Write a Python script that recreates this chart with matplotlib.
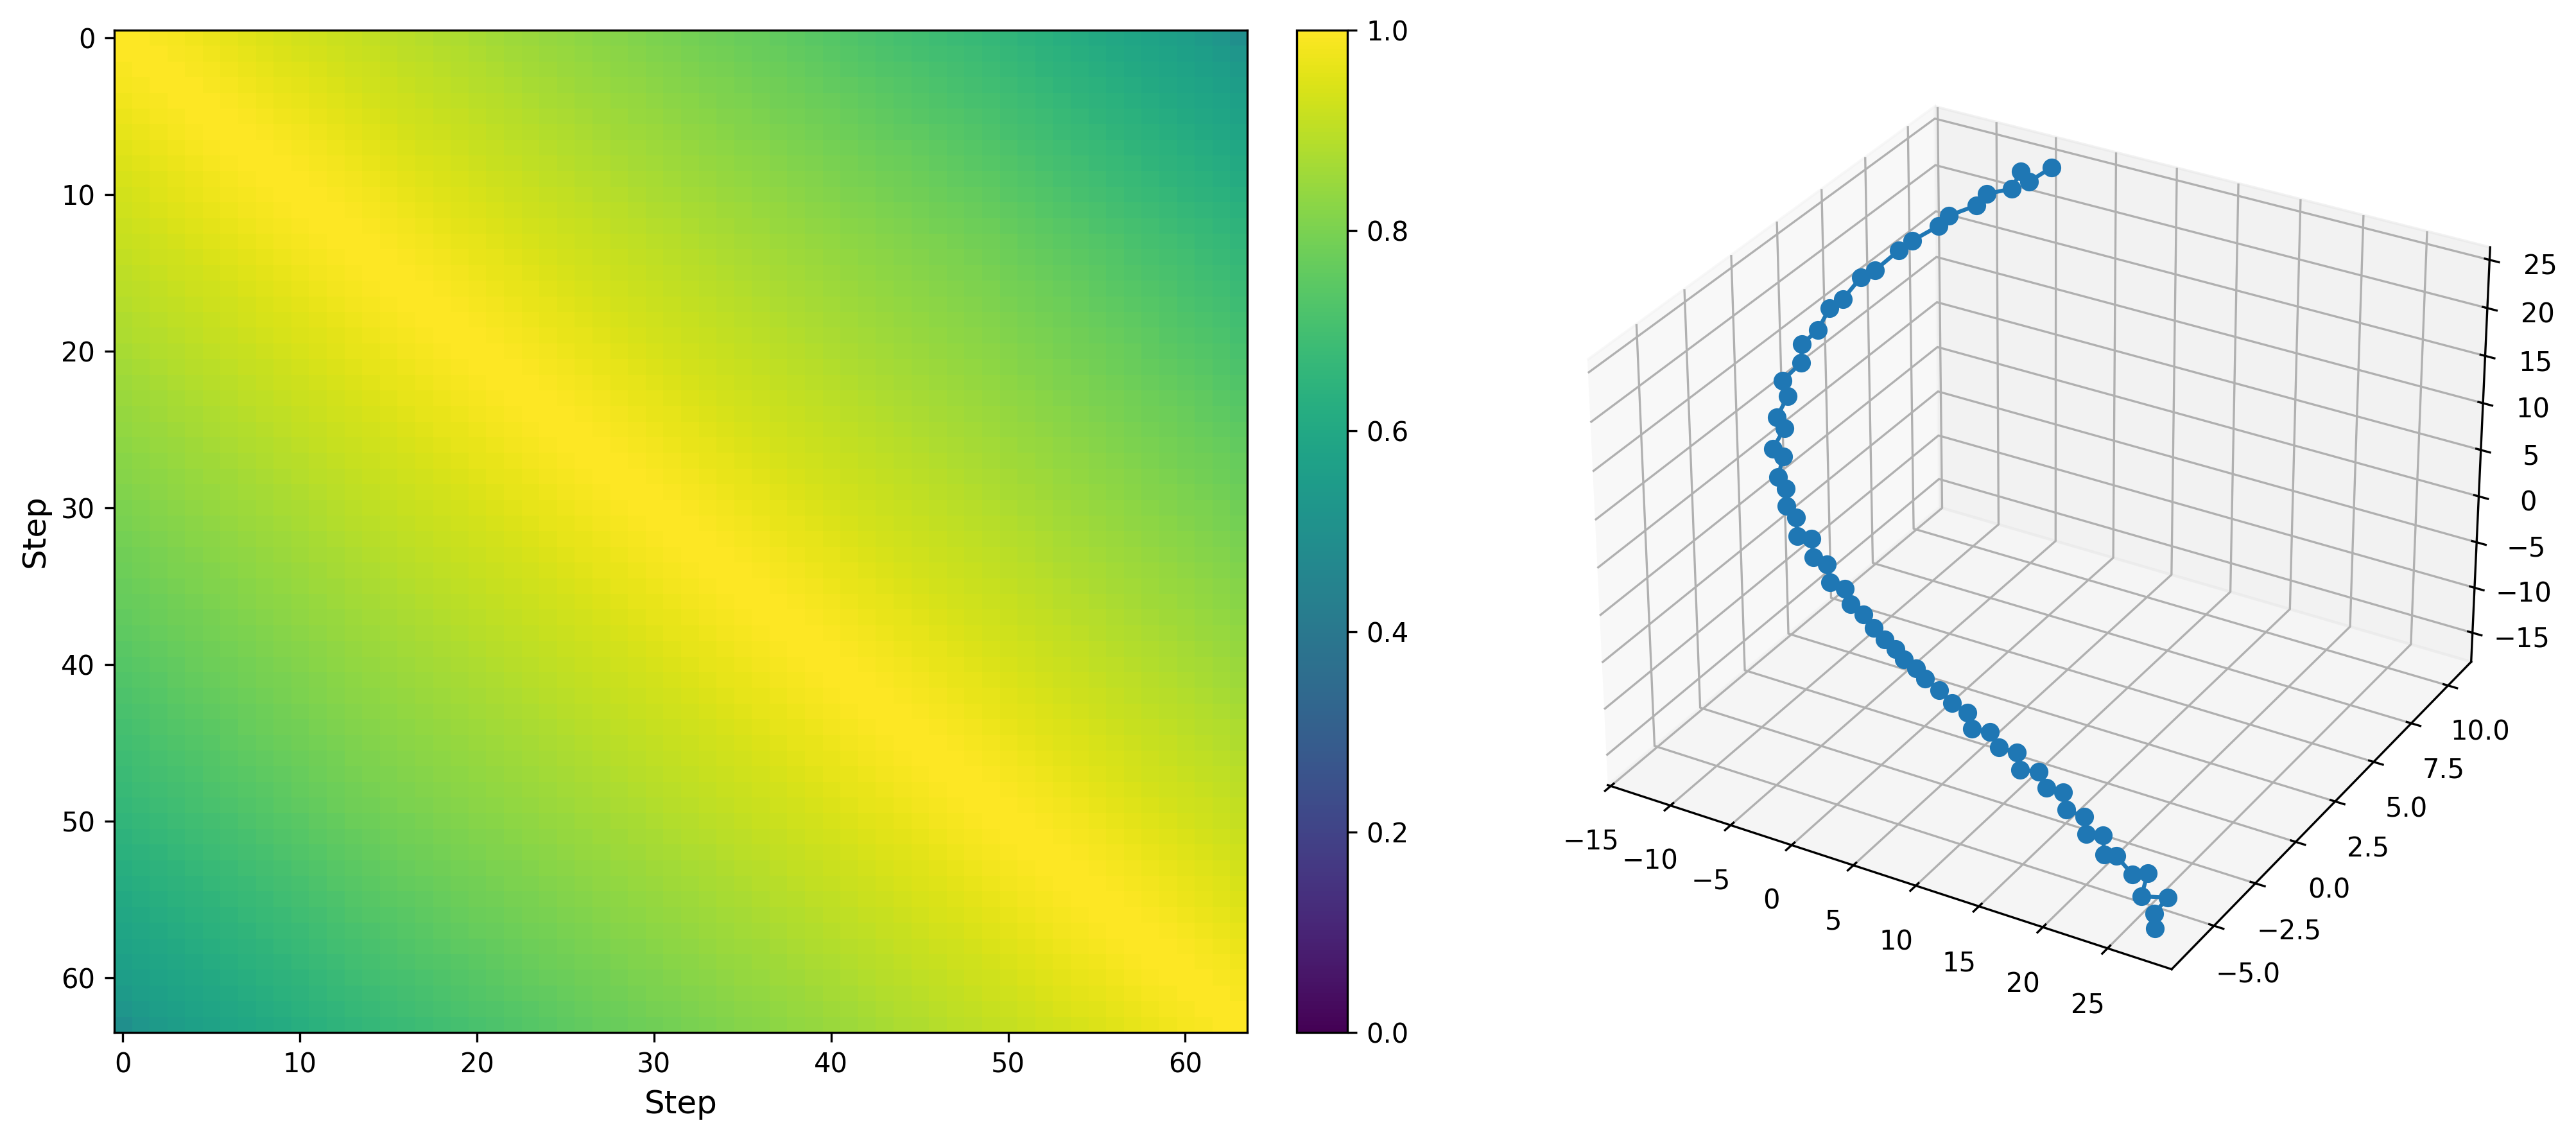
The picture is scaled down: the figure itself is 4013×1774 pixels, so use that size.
import matplotlib
matplotlib.use('Agg')
import matplotlib.pyplot as plt
import numpy as np

W, H = 4013, 1774

# similarity per distance between two steps (mid rows)
lag_sim = [1.000, 0.997, 0.993, 0.988, 0.982, 0.975, 0.968, 0.961, 0.954, 0.947, 0.940, 0.933, 0.927, 0.921, 0.915, 0.909,
           0.903, 0.897, 0.891, 0.885, 0.878, 0.872, 0.866, 0.860, 0.855, 0.849, 0.843, 0.837, 0.831, 0.825, 0.819, 0.813,
           0.807, 0.801, 0.795, 0.789, 0.783, 0.776, 0.769, 0.762, 0.755, 0.748, 0.741, 0.734, 0.727, 0.720, 0.713, 0.706,
           0.699, 0.692, 0.685, 0.678, 0.671, 0.664, 0.657, 0.650, 0.643, 0.636, 0.629, 0.622, 0.615, 0.605, 0.590, 0.570]
# how much faster each step falls away from the others, near the two ends
step_spread = [1.08, 1.075, 1.07, 1.065, 1.06, 1.055, 1.05, 1.045, 1.04, 1.035, 1.03, 1.02, 1.01, 1.00, 1.00, 1.00,
               1.00, 1.00, 1.00, 1.00, 1.00, 1.00, 1.00, 1.00, 1.00, 1.00, 1.00, 1.00, 1.00, 1.00, 1.00, 1.00,
               1.00, 1.00, 1.00, 1.00, 1.00, 1.00, 1.00, 1.00, 1.00, 1.00, 1.00, 1.00, 1.00, 1.00, 1.00, 1.00,
               1.00, 1.00, 1.01, 1.015, 1.02, 1.025, 1.03, 1.035, 1.04, 1.045, 1.05, 1.055, 1.06, 1.065, 1.07, 1.08]

traj_x = [-4.18, -5.34, -5.46, -5.49, -6.85, -7.13, -8.72, -8.84, -10.47, -10.85, -12.12, -12.71, -13.49, -13.86, -14.26, -14.86,
          -14.16, -15.15, -13.94, -14.11, -12.68, -12.90, -11.73, -12.04, -11.10, -10.76, -9.82, -9.44, -7.94, -7.66, -6.22, -5.68,
          -4.30, -3.53, -2.18, -1.20, -0.01, 1.19, 2.01, 3.29, 4.31, 5.61, 6.93, 8.46, 8.95, 10.68,
          11.68, 13.25, 13.79, 15.41, 16.29, 17.74, 18.28, 19.83, 20.25, 21.69, 22.08, 23.15, 24.67, 25.98, 25.79, 27.93, 27.18, 27.51]
traj_y = [10.73, 10.20, 9.79, 9.27, 8.75, 8.33, 7.81, 7.29, 6.87, 6.35, 5.83, 5.41, 4.89, 4.37, 3.96, 3.44,
          2.91, 2.50, 1.98, 1.46, 0.94, 0.41, 0.21, 0.10, -0.11, -0.31, -0.42, -0.63, -0.83, -0.94, -1.15, -1.36,
          -1.46, -1.67, -1.88, -1.98, -2.19, -2.40, -2.50, -2.71, -2.92, -3.02, -3.23, -3.44, -3.54, -3.75,
          -3.96, -4.06, -4.27, -4.38, -4.58, -4.69, -4.90, -5.00, -5.21, -5.31, -5.52, -5.63, -5.83, -5.94, -6.15, -6.25, -6.46, -6.67]
traj_z = [24.51, 23.33, 24.94, 23.79, 23.50, 22.76, 21.85, 21.44, 19.90, 19.47, 17.65, 17.28, 15.43, 15.08, 13.21, 12.24,
          11.26, 9.59, 9.14, 7.59, 7.73, 6.24, 6.17, 4.01, 3.44, 2.03, 1.31, -0.22, 0.41, -1.31, -1.20, -2.58,
          -2.56, -3.58, -3.81, -4.71, -5.13, -5.34, -5.95, -6.04, -6.39, -6.93, -7.41, -7.46, -8.79, -8.06,
          -8.93, -8.65, -9.91, -9.25, -10.22, -9.90, -11.15, -11.05, -12.33, -11.67, -13.18, -12.66, -13.59, -12.69, -14.84, -13.84, -15.50, -16.53]

x_ticks = [-15, -10, -5, 0, 5, 10, 15, 20, 25]
y_ticks = [-5.0, -2.5, 0.0, 2.5, 5.0, 7.5, 10.0]
z_ticks = [-15, -10, -5, 0, 5, 10, 15, 20, 25]

lag = np.array(lag_sim)
spread = np.array(step_spread)
steps = np.arange(64)
dist = np.abs(steps[:, None] - steps[None, :])
sim = 1 - (1 - lag[dist]) * spread[:, None] * spread[None, :]

fig = plt.figure(figsize=(W / 300, H / 300), dpi=300)


def box(x0, y0, x1, y1):
    return [x0 / W, 1 - y1 / H, (x1 - x0) / W, (y1 - y0) / H]


ax1 = fig.add_axes(box(177.5, 47, 1943, 1608))
im = ax1.imshow(sim, cmap='viridis', vmin=0, vmax=1, aspect='auto')
ax1.set_xlabel('Step', fontsize=12)
ax1.set_ylabel('Step', fontsize=12)
ax1.tick_params(labelsize=10)
cax = fig.add_axes(box(2020, 47, 2099, 1608))
cbar = fig.colorbar(im, cax=cax)
cbar.ax.tick_params(labelsize=10)

# square 3d axes, placed so the box corners land where they are in the picture
L, cx, cy = 1563.6, 3168.5, 826.5
ax2 = fig.add_axes(box(cx - L / 2, cy - L / 2, cx + L / 2, cy + L / 2), projection='3d')
ax2.plot(traj_x, traj_y, traj_z, 'o-')
# ticks first: set_xticks would widen the limits otherwise
ax2.set_xticks(x_ticks)
ax2.set_yticks(y_ticks)
ax2.set_zticks(z_ticks)
ax2.set_xlim(-15.25, 29.9)
ax2.set_ylim(-7.5, 11.6)
ax2.set_zlim(-18.25, 26.3)
ax2.tick_params(labelsize=10)

fig.savefig('out.png', dpi=300)
